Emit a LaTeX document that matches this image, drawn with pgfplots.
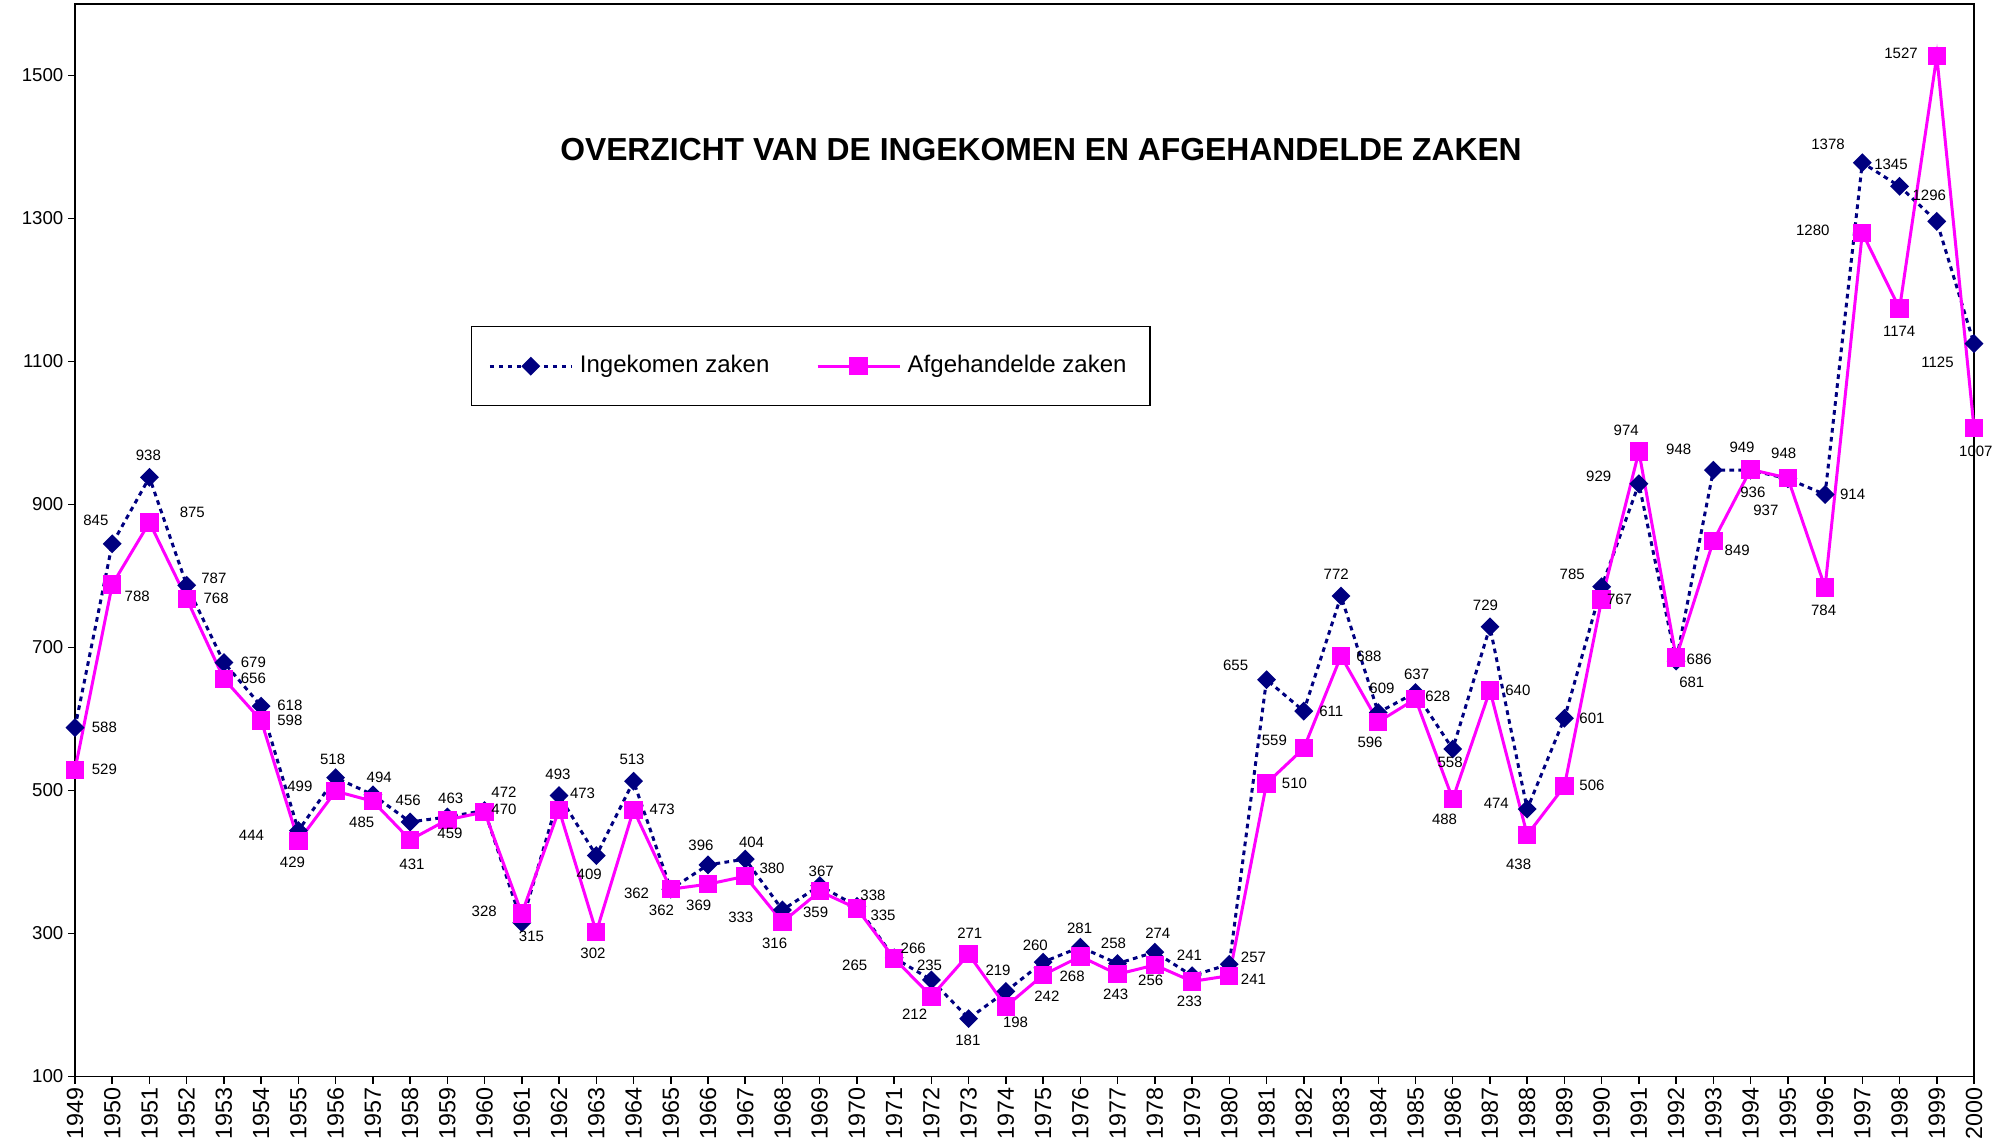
\documentclass[border=0pt]{standalone}
\usepackage{pgfplots}
\pgfplotsset{compat=1.18}
\usepackage{pgfplotstable}
\usepackage{fontspec}
\setmainfont{Liberation Sans}
\definecolor{navyc}{RGB}{0,0,128}
\definecolor{magc}{RGB}{255,0,255}

\pgfplotstableread{
year in afg
1949 588 529
1950 845 788
1951 938 875
1952 787 768
1953 679 656
1954 618 598
1955 444 429
1956 518 499
1957 494 485
1958 456 431
1959 463 459
1960 472 470
1961 315 328
1962 493 473
1963 409 302
1964 513 473
1965 362 362
1966 396 369
1967 404 380
1968 333 316
1969 367 359
1970 338 335
1971 266 265
1972 235 212
1973 181 271
1974 219 198
1975 260 242
1976 281 268
1977 258 243
1978 274 256
1979 241 233
1980 257 241
1981 655 510
1982 611 559
1983 772 688
1984 609 596
1985 637 628
1986 558 488
1987 729 640
1988 474 438
1989 601 506
1990 785 767
1991 929 974
1992 681 686
1993 948 849
1994 948 949
1995 936 937
1996 914 784
1997 1378 1280
1998 1345 1174
1999 1296 1527
2000 1125 1007
}\datatable

\pgfplotstableread{
x y t
1949.79 588 588
1949.79 529 529
1949.56 878 845
1950.67 771.5 788
1950.97 968.4 938
1952.15 889 875
1952.73 797 787
1952.79 768.3 768
1953.79 679 679
1953.79 656.8 656
1954.77 619 618
1954.77 598 598
1955.04 505.6 499
1955.92 543 518
1957.17 518.7 494
1956.70 455.2 485
1957.95 486 456
1959.09 489 463
1953.74 436.9 444
1954.84 399.2 429
1958.05 397.4 431
1959.07 440.4 459
1960.52 497.2 472
1960.52 473 470
1959.99 330.7 328
1961.26 295.7 315
1961.97 522 493
1962.63 496.4 473
1962.81 383.4 409
1962.91 272.4 302
1963.96 543 513
1964.77 474 473
1964.08 356.4 362
1964.75 333 362
1965.81 424 396
1965.75 340 369
1967.17 427.2 404
1967.72 390.8 380
1966.88 322.3 333
1967.79 286.4 316
1969.04 386.6 367
1968.89 329.3 359
1970.43 354 338
1970.70 326 335
1971.51 279.4 266
1969.94 255 265
1971.95 255 235
1971.55 187.5 212
1973.03 300.4 271
1972.98 151 181
1973.79 249 219
1974.26 175.3 198
1974.79 283 260
1975.10 212.7 242
1975.98 307.4 281
1975.78 239.7 268
1976.89 286.4 258
1976.95 215 243
1978.08 300.4 274
1977.89 235 256
1978.93 270 241
1978.93 204.7 233
1980.65 266.8 257
1980.65 236 241
1980.17 674.5 655
1981.21 570 559
1981.75 509.4 510
1982.74 610.6 611
1982.87 801.9 772
1983.75 687.5 688
1984.10 642.3 609
1983.78 567.2 596
1985.03 662 637
1985.60 631.6 628
1985.93 539.2 558
1985.78 460 488
1986.88 759 729
1987.75 640 640
1987.17 482.4 474
1987.77 397 438
1989.74 600.3 601
1989.74 507 506
1989.21 802.9 785
1989.92 939.5 929
1990.66 1003.8 974
1992.07 977.8 948
1990.48 768 767
1992.42 651 681
1992.62 684 686
1993.64 836 849
1993.77 980.6 949
1994.89 972.2 948
1994.06 917 936
1994.41 892 937
1996.74 914.8 914
1995.96 752 784
2000.05 974.5 1007
1998.04 1530.7 1527
1996.08 1403.7 1378
1997.77 1375.7 1345
1998.80 1332.7 1296
1995.67 1283.3 1280
1997.99 1142.4 1174
1999.02 1098.2 1125
}\labeltable

\begin{document}
\begin{tikzpicture}
\begin{axis}[
  at={(0pt,0pt)}, anchor=south west,
  scale only axis, width=569.7pt, height=321.75pt,
  xmin=1949, xmax=2000, ymin=100, ymax=1600,
  xtick={1949,1950,1951,1952,1953,1954,1955,1956,1957,1958,1959,1960,1961,1962,1963,1964,1965,1966,1967,1968,1969,1970,1971,1972,1973,1974,1975,1976,1977,1978,1979,1980,1981,1982,1983,1984,1985,1986,1987,1988,1989,1990,1991,1992,1993,1994,1995,1996,1997,1998,1999,2000},
  ytick={100,300,500,700,900,1100,1300,1500},
  /pgf/number format/assume math mode=true,
  /pgf/number format/fixed,
  /pgf/number format/precision=0,
  /pgf/number format/1000 sep={},
  x tick label style={rotate=90, anchor=east, font=\fontsize{7}{8}\selectfont, inner sep=1pt},
  y tick label style={font=\fontsize{5.6}{6.5}\selectfont, inner sep=1.2pt},
  tick align=outside, major tick length=2.1pt,
  xtick pos=lower, ytick pos=left,
  axis line style={line width=0.45pt, black},
  tick style={black, line width=0.45pt},
  clip=false,
  legend columns=2,
  legend cell align=left,
  legend style={at={(0.2085,0.6998)}, anchor=north west, draw=black, line width=0.4pt,
    font=\fontsize{7.2}{8.5}\selectfont, inner xsep=5pt, inner ysep=6.5pt,
    /tikz/every even column/.append style={column sep=12pt}},
  legend image code/.code={\draw[mark repeat=2,mark phase=2] plot coordinates {(0pt,0pt) (12.3pt,0pt) (24.6pt,0pt)};},
]
\addplot[navyc, line width=0.9pt, dash pattern=on 1.4pt off 1.3pt,
  mark=square*, mark size=1.55pt, mark options={solid, rotate=45, fill=navyc}]
  table[x=year, y=in]{\datatable};
\addlegendentry{Ingekomen zaken}
\addplot[magc, line width=0.9pt,
  mark=square*, mark size=2.3pt, mark options={solid, fill=magc}]
  table[x=year, y=afg]{\datatable};
\addlegendentry{Afgehandelde zaken}
\addplot[forget plot, only marks, mark=*, mark size=0pt, mark options={draw=none, fill=none},
  scatter, point meta=explicit symbolic,
  scatter/@pre marker code/.code={\node[font=\fontsize{4.5}{5}\selectfont, inner sep=0pt, anchor=center, text=black] at (0pt,0pt) {\pgfplotspointmeta};},
  scatter/@post marker code/.code={}]
  table[x=x, y=y, meta=t]{\labeltable};
\node[font=\fontsize{9.55}{11}\selectfont\bfseries] at (rel axis cs:0.5087,0.8639) {OVERZICHT VAN DE INGEKOMEN EN AFGEHANDELDE ZAKEN};
\end{axis}
\pgfresetboundingbox
\path[use as bounding box] (-22.5pt,-19.95pt) rectangle (581.4pt,322.95pt);
\end{tikzpicture}
\end{document}
